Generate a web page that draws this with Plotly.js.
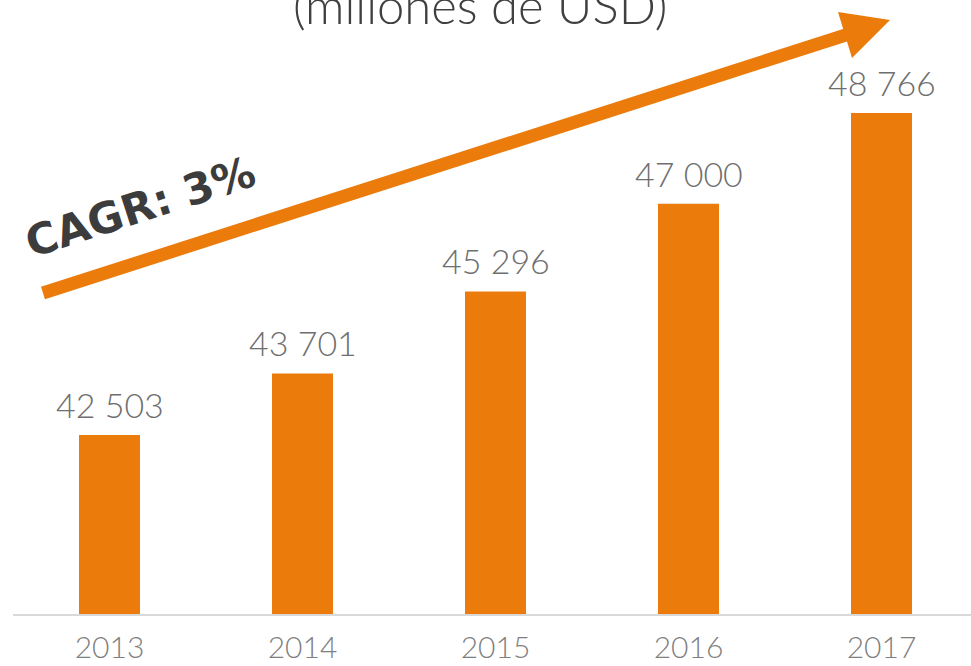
<!DOCTYPE html>
<html>
<head>
<meta charset="utf-8">
<script src="https://cdn.plot.ly/plotly-3.0.1.min.js"></script>
<style>html,body{margin:0;padding:0;background:#fff;}#chart{width:971px;height:666px;}</style>
</head>
<body>
<div id="chart"></div>
<script>
const years = ['2013', '2014', '2015', '2016', '2017'];
const values = [42503, 43701, 45296, 47000, 48766];
const titleText = '(millones de USD)';
const cagrText = 'CAGR: 3%';

const W = 971, H = 666;
const M = {l: 13, r: 0, t: 40, b: 52};
const pw = W - M.l - M.r, ph = H - M.t - M.b;
function px(x) { return (x - M.l) / pw; }
function py(y) { return (H - M.b - y) / ph; }

const orange = '#EB7B0B';
const fmt = v => String(v).replace(/\B(?=(\d{3})+(?!\d))/g, ' ');

const trace = {
  type: 'bar',
  x: years,
  y: values,
  marker: {color: orange},
  hoverinfo: 'skip'
};

const labelAnn = values.map((v, i) => ({
  x: i, y: v, xref: 'x', yref: 'y',
  text: fmt(v), showarrow: false,
  xanchor: 'center', yanchor: 'bottom', yshift: 8,
  font: {family: 'Lato', size: 34, color: '#6f6f6f', weight: 300}
}));

const layout = {
  width: W, height: H,
  margin: M,
  paper_bgcolor: '#fff', plot_bgcolor: '#fff',
  showlegend: false,
  bargap: 0.684,
  xaxis: {
    type: 'category',
    range: [-0.5, -0.5 + pw / 193],
    showline: true, linecolor: '#d9d9d9', linewidth: 2,
    showgrid: false, zeroline: false, ticks: '',
    tickfont: {family: 'Lato', size: 30, color: '#7f7f7f', weight: 300},
    ticklabelstandoff: 6
  },
  yaxis: {
    range: [39021, 50186],
    visible: false, showgrid: false, zeroline: false
  },
  shapes: [
    {type: 'line', xref: 'paper', yref: 'paper',
     x0: px(43), y0: py(293), x1: px(852), y1: py(33),
     line: {color: orange, width: 13}},
    {type: 'path', xref: 'paper', yref: 'paper',
     path: `M ${px(890)} ${py(20)} L ${px(838)} ${py(12)} L ${px(852)} ${py(58)} Z`,
     fillcolor: orange, line: {width: 0}}
  ],
  annotations: labelAnn.concat([
    {xref: 'paper', yref: 'paper', x: px(480), y: py(22), xanchor: 'center', yanchor: 'bottom',
     text: titleText, showarrow: false, yshift: -14,
     font: {family: 'Lato', size: 49, color: '#404040', weight: 300}},
    {xref: 'paper', yref: 'paper', x: px(140), y: py(207), xanchor: 'center', yanchor: 'middle',
     text: cagrText, showarrow: false, textangle: -18,
     font: {family: 'DejaVu Sans', size: 43, color: '#3c3c3c', weight: 700}}
  ])
};

Plotly.newPlot('chart', [trace], layout, {displayModeBar: false, staticPlot: true});
</script>
</body>
</html>
